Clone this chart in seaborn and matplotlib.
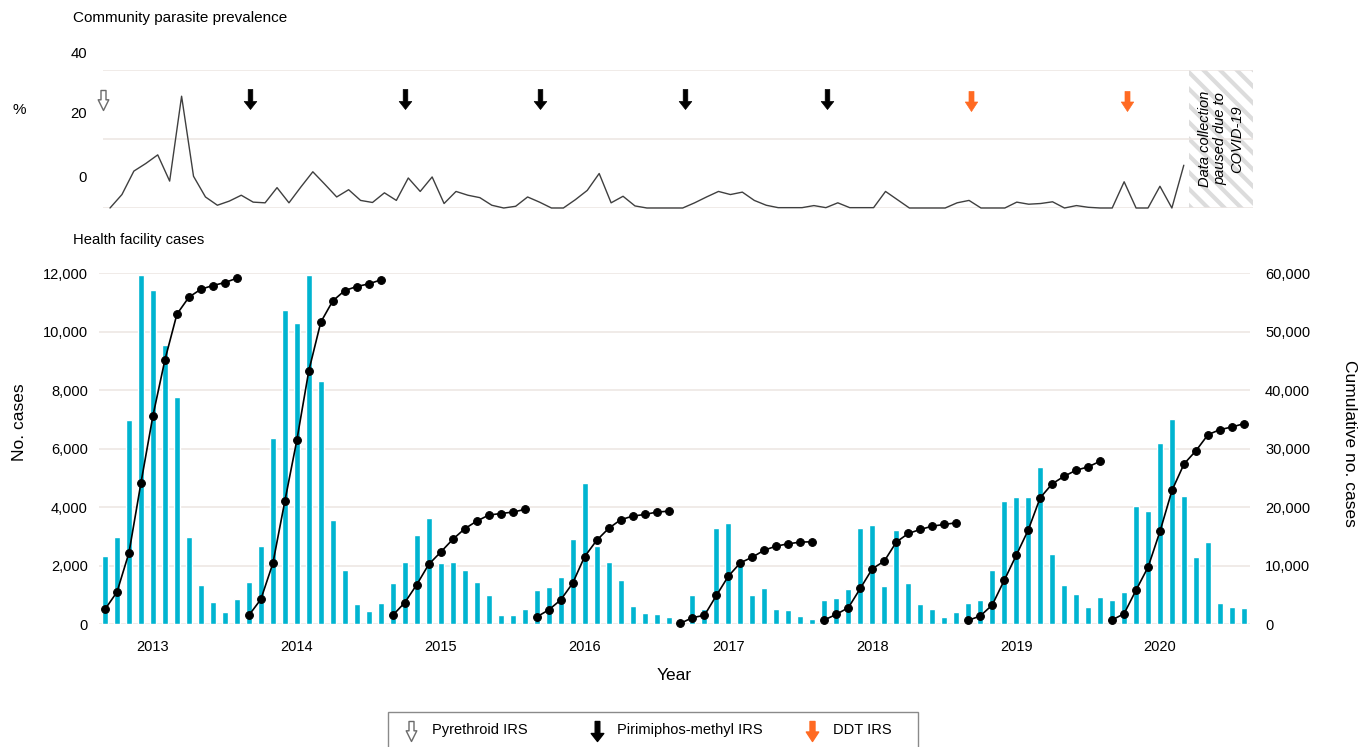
import numpy as np
import pandas as pd
import matplotlib.pyplot as plt
import seaborn as sns
from matplotlib.path import Path
from matplotlib.lines import Line2D
from matplotlib.patches import Rectangle
from matplotlib.ticker import StrMethodFormatter
from matplotlib.transforms import ScaledTranslation

# monthly health facility cases, one list per transmission season (Sep-Aug)
year_labels = ['2013', '2014', '2015', '2016', '2017', '2018', '2019', '2020']
cases_2013 = [2330, 2990, 7000, 11950, 11430, 9560, 7770, 2990, 1360, 760, 420, 850]
cases_2014 = [1450, 2670, 6370, 10750, 10300, 11950, 8330, 3560, 1850, 680, 450, 720]
cases_2015 = [1400, 2140, 3050, 3640, 2100, 2130, 1850, 1460, 990, 320, 320, 510]
cases_2016 = [1160, 1270, 1610, 2930, 4830, 2670, 2130, 1510, 630, 370, 360, 250]
cases_2017 = [80, 990, 510, 3280, 3470, 2050, 990, 1250, 530, 480, 280, 170]
cases_2018 = [820, 910, 1190, 3280, 3410, 1310, 3210, 1420, 680, 530, 250, 420]
cases_2019 = [720, 820, 1840, 4210, 4350, 4360, 5380, 2390, 1340, 1020, 580, 930]
cases_2020 = [820, 1100, 4060, 3870, 6200, 7020, 4380, 2300, 2820, 720, 590, 550]

# cumulative cases within each season (right axis)
cum_2013 = [2560, 5520, 12230, 24180, 35670, 45220, 53020, 55920, 57280, 57910, 58420, 59160]
cum_2014 = [1540, 4270, 10410, 21050, 31460, 43350, 51650, 55290, 57050, 57740, 58190, 58870]
cum_2015 = [1540, 3700, 6770, 10240, 12340, 14510, 16330, 17630, 18660, 18940, 19170, 19630]
cum_2016 = [1250, 2450, 4150, 7000, 11550, 14330, 16380, 17860, 18490, 18770, 19170, 19340]
cum_2017 = [170, 1140, 1540, 4950, 8250, 10520, 11490, 12690, 13370, 13770, 14050, 14110]
cum_2018 = [740, 1710, 2840, 6140, 9500, 10810, 14050, 15530, 16210, 16780, 17070, 17350]
cum_2019 = [680, 1420, 3300, 7510, 11780, 16100, 21620, 24010, 25310, 26340, 26910, 27870]
cum_2020 = [740, 1820, 5860, 9780, 15930, 22920, 27420, 29690, 32420, 33280, 33730, 34300]

# community parasite prevalence (%), monthly from Sep 2012 until the COVID-19 pause
prevalence = [0, 3.9, 10.7, 12.9, 15.4, 7.8, 32.4, 9.2, 3.2, 0.8,
              2.0, 3.7, 1.7, 1.5, 5.9, 1.5, 6.1, 10.5, 6.9, 3.2,
              5.3, 2.2, 1.6, 4.4, 2.2, 8.7, 4.8, 9.0, 1.3, 4.8,
              3.7, 3.0, 0.8, 0, 0.5, 3.2, 1.7, 0, 0, 2.4,
              5.1, 10.0, 1.5, 3.4, 0.6, 0, 0, 0, 0, 1.5,
              3.2, 4.8, 3.9, 4.6, 2.2, 0.8, 0.1, 0.1, 0.1, 0.7,
              0.1, 1.5, 0.1, 0.1, 0.1, 4.8, 2.4, 0, 0, 0,
              0, 1.5, 2.2, 0, 0, 0, 1.7, 1.1, 1.3, 1.8,
              0, 0.7, 0.2, 0, 0, 7.6, 0, 0, 6.3, 0,
              12.4]

# IRS rounds (month position on the prevalence panel)
pyrethroid_irs = [-0.56]
pirimiphos_irs = [11.7, 24.7, 36.0, 48.2, 60.1]
ddt_irs = [72.2, 85.2]
covid_pause_start = 90.4

monthly = [cases_2013, cases_2014, cases_2015, cases_2016, cases_2017, cases_2018, cases_2019, cases_2020]
cumulative = [cum_2013, cum_2014, cum_2015, cum_2016, cum_2017, cum_2018, cum_2019, cum_2020]
df = pd.DataFrame({
    'month': np.arange(96),
    'season': np.repeat(np.arange(8), 12),
    'cases': np.concatenate(monthly),
    'cum': np.concatenate(cumulative),
})

BAR = '#00b4d0'
GRID = '#ece5e2'
ORANGE = '#ff6a22'

sns.set_style('white')
plt.rcParams['font.family'] = ['Liberation Sans', 'DejaVu Sans']
plt.rcParams['hatch.linewidth'] = 3.0
for key in ['text.color', 'axes.labelcolor', 'xtick.color', 'ytick.color']:
    plt.rcParams[key] = 'black'

W, H = 1362, 747
fig = plt.figure(figsize=(W / 100, H / 100), dpi=100)


def box(l, t, r, b):
    return [l / W, 1 - b / H, (r - l) / W, (b - t) / H]


def arrow_path(shaft, head, neck):
    verts = [(-shaft, 1), (shaft, 1), (shaft, neck), (head, neck), (0, -1),
             (-head, neck), (-shaft, neck), (-shaft, 1)]
    return Path(verts, closed=True)


hollow_arrow = arrow_path(0.25, 0.53, 0.07)
solid_arrow = arrow_path(0.23, 0.63, -0.2)
ddt_arrow = arrow_path(0.25, 0.62, -0.05)

# ---- top panel: community parasite prevalence
ax_top = fig.add_axes(box(103, 70, 1253, 208))
sns.lineplot(x=np.arange(len(prevalence)), y=prevalence, ax=ax_top,
             color='#3f3f3f', lw=1.0, clip_on=False)
ax_top.axvspan(covid_pause_start, 95.8, facecolor='white', edgecolor='#dcdcdc',
               hatch='\\\\', lw=0, zorder=0.5)
ax_top.text((covid_pause_start + 95.8) / 2, 20, 'Data collection\npaused due to\nCOVID-19',
            rotation=90, ha='center', va='center', multialignment='center',
            fontsize=10.5, style='italic', zorder=3)
ax_top.set_xlim(-0.587, 95.8)
ax_top.set_ylim(0, 40)
ax_top.set_xticks([])
ax_top.set_yticks([0, 20, 40])
ax_top.grid(axis='y', color=GRID, lw=1.1)
ax_top.grid(axis='x', visible=False)
ax_top.set_axisbelow(True)
for s in ax_top.spines.values():
    s.set_visible(False)
ax_top.tick_params(axis='y', length=0, pad=11.5, labelsize=10.7)
for lab, dy in zip(ax_top.get_yticklabels(), [32, 26, 18]):
    lab.set_transform(lab.get_transform() + ScaledTranslation(0, dy / 100, fig.dpi_scale_trans))
ax_top.set_ylabel('%', rotation=0, fontsize=11)
ax_top.yaxis.set_label_coords((19 - 103) / 1150, (208 - 110) / 138)
ax_top.yaxis.label.set_va('center')
ax_top.yaxis.label.set_ha('center')

ax_top.plot(pyrethroid_irs, [31.4] * len(pyrethroid_irs), ls='none', marker=hollow_arrow,
            ms=14.4, mfc='white', mec='#6a6a6a', mew=1.0, clip_on=False, zorder=4)
ax_top.plot(pirimiphos_irs, [31.6] * len(pirimiphos_irs), ls='none', marker=solid_arrow,
            ms=14.4, mfc='black', mec='black', mew=0.5, clip_on=False, zorder=4)
ax_top.plot(ddt_irs, [31.1] * len(ddt_irs), ls='none', marker=ddt_arrow,
            ms=14.4, mfc=ORANGE, mec=ORANGE, mew=0.5, clip_on=False, zorder=4)

fig.text(73 / W, 1 - 18 / H, 'Community parasite prevalence', fontsize=11, ha='left', va='center')

# ---- bottom panel: health facility cases
ax = fig.add_axes(box(99, 273.3, 1250, 624.3))
sns.barplot(data=df, x='month', y='cases', color=BAR, width=0.5, saturation=1,
            errorbar=None, ax=ax)
ax2 = ax.twinx()
sns.lineplot(data=df, x='month', y='cum', units='season', estimator=None, color='black',
             lw=1.2, marker='o', markersize=5.6, markeredgecolor='black', ax=ax2, clip_on=False)

ax.set_xlim(-0.25, 95.4)
ax.set_ylim(0, 12000)
ax2.set_ylim(0, 60000)
ax.set_yticks(np.arange(0, 12001, 2000))
ax2.set_yticks(np.arange(0, 60001, 10000))
ax.yaxis.set_major_formatter(StrMethodFormatter('{x:,.0f}'))
ax2.yaxis.set_major_formatter(StrMethodFormatter('{x:,.0f}'))
ax.set_xticks(np.arange(4, 96, 12), year_labels)
ax.set_xticks(np.arange(-0.5, 96, 1), minor=True)
ax.tick_params(axis='x', which='major', length=0, pad=11.6, labelsize=10.5)
ax.tick_params(axis='x', which='minor', length=4, color='#e2dcda', width=1)
ax.tick_params(axis='y', length=0, pad=8, labelsize=10.5)
ax2.tick_params(axis='y', length=0, pad=10.8, labelsize=10.5)
ax.grid(axis='y', color=GRID, lw=1.1)
ax.grid(axis='x', visible=False)
ax2.grid(False)
ax.set_axisbelow(True)
for a in (ax, ax2):
    for s in a.spines.values():
        s.set_visible(False)

ax.set_xlabel('Year', fontsize=12.5, labelpad=9.7)
ax.set_ylabel('No. cases', fontsize=12.5)
ax.yaxis.set_label_coords((20 - 99) / 1151, 0.577)
ax.yaxis.label.set_va('center')
ax2.set_ylabel('Cumulative no. cases', fontsize=12.5, rotation=270)
ax2.yaxis.set_label_coords((1350 - 99) / 1151, 0.515)
ax2.yaxis.label.set_va('center')

fig.text(73 / W, 1 - 240 / H, 'Health facility cases', fontsize=10.6, ha='left', va='center')

# ---- legend
fig.add_artist(Rectangle((388 / W, 1 - 765 / H), (918 - 388) / W, (765 - 712) / H,
                         transform=fig.transFigure, fill=False, ec='#8a8a8a', lw=1.0))
legend_items = [(411, hollow_arrow, 'white', '#6a6a6a', 432, 'Pyrethroid IRS'),
                (597, solid_arrow, 'black', 'black', 617, 'Pirimiphos-methyl IRS'),
                (812, ddt_arrow, ORANGE, ORANGE, 833, 'DDT IRS')]
for mx, mk, fc, ec, tx, label in legend_items:
    fig.add_artist(Line2D([mx / W], [1 - 731 / H], transform=fig.transFigure, ls='none',
                          marker=mk, ms=14.4, mfc=fc, mec=ec, mew=1.0))
    fig.text(tx / W, 1 - 730 / H, label, fontsize=10.5, ha='left', va='center')

fig.savefig('out.png', dpi=100)
